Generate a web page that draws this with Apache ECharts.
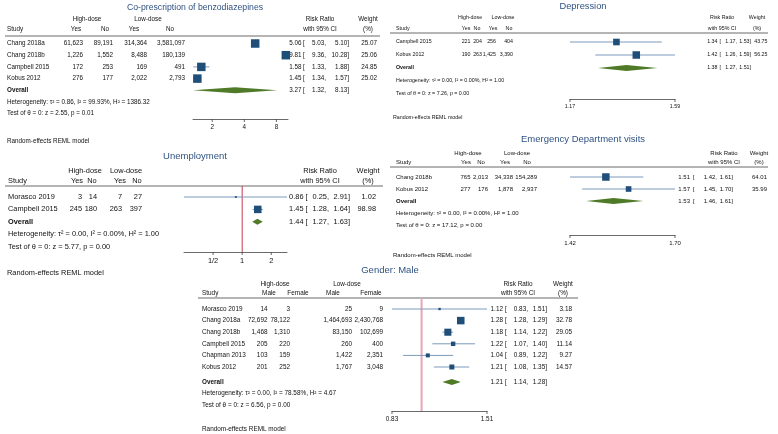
<!DOCTYPE html>
<html><head><meta charset="utf-8">
<script src="https://cdn.jsdelivr.net/npm/echarts@6/dist/echarts.min.js"></script>
<style>html,body{margin:0;padding:0;background:#fff}#c{width:778px;height:434px}</style>
</head><body><div id="c"></div>
<script>
// ---------------- DATA ----------------
// Co-prescription of benzodiazepines
const benzoStudies = ['Chang 2018a', 'Chang 2018b', 'Campbell 2015', 'Kobus 2012'];
const benzoHighYes = [61623, 1226, 172, 276];
const benzoHighNo = [89191, 1552, 253, 177];
const benzoLowYes = [314364, 8488, 169, 2022];
const benzoLowNo = [3581097, 180139, 491, 2793];
const benzoRR = [5.06, 9.81, 1.58, 1.45];
const benzoLo = [5.03, 9.36, 1.33, 1.34];
const benzoHi = [5.10, 10.28, 1.88, 1.57];
const benzoWeight = [25.07, 25.06, 24.85, 25.02];
const benzoOverall = [3.27, 1.32, 8.13];
const benzoHet = 'Heterogeneity: τ² = 0.86, I² = 99.93%, H² = 1386.32';
const benzoTest = 'Test of θ = 0: z = 2.55, p = 0.01';
const benzoTicks = [2, 4, 8];
const benzoTickLabels = ['2', '4', '8'];

// Unemployment
const unempStudies = ['Morasco 2019', 'Campbell 2015'];
const unempHighYes = [3, 245];
const unempHighNo = [14, 180];
const unempLowYes = [7, 263];
const unempLowNo = [27, 397];
const unempRR = [0.86, 1.45];
const unempLo = [0.25, 1.28];
const unempHi = [2.91, 1.64];
const unempWeight = [1.02, 98.98];
const unempOverall = [1.44, 1.27, 1.63];
const unempHet = 'Heterogeneity: τ² = 0.00, I² = 0.00%, H² = 1.00';
const unempTest = 'Test of θ = 0: z = 5.77, p = 0.00';
const unempTicks = [0.5, 1, 2];
const unempTickLabels = ['1/2', '1', '2'];

// Depression
const depStudies = ['Campbell 2015', 'Kobus 2012'];
const depHighYes = [221, 190];
const depHighNo = [204, 263];
const depLowYes = [256, 1425];
const depLowNo = [404, 3390];
const depRR = [1.34, 1.42];
const depLo = [1.17, 1.26];
const depHi = [1.53, 1.59];
const depWeight = [43.75, 56.25];
const depOverall = [1.38, 1.27, 1.51];
const depHet = 'Heterogeneity: τ² = 0.00, I² = 0.00%, H² = 1.00';
const depTest = 'Test of θ = 0: z = 7.26, p = 0.00';
const depTicks = [1.17, 1.59];
const depTickLabels = ['1.17', '1.59'];

// Emergency Department visits
const edStudies = ['Chang 2018b', 'Kobus 2012'];
const edHighYes = [765, 277];
const edHighNo = [2013, 176];
const edLowYes = [34338, 1878];
const edLowNo = [154289, 2937];
const edRR = [1.51, 1.57];
const edLo = [1.42, 1.45];
const edHi = [1.61, 1.70];
const edWeight = [64.01, 35.99];
const edOverall = [1.53, 1.46, 1.61];
const edHet = 'Heterogeneity: τ² = 0.00, I² = 0.00%, H² = 1.00';
const edTest = 'Test of θ = 0: z = 17.12, p = 0.00';
const edTicks = [1.42, 1.70];
const edTickLabels = ['1.42', '1.70'];

// Gender: Male
const genStudies = ['Morasco 2019', 'Chang 2018a', 'Chang 2018b', 'Campbell 2015', 'Chapman 2013', 'Kobus 2012'];
const genHighMale = [14, 72692, 1468, 205, 103, 201];
const genHighFemale = [3, 78122, 1310, 220, 159, 252];
const genLowMale = [25, 1464693, 83150, 260, 1422, 1767];
const genLowFemale = [9, 2430768, 102699, 400, 2351, 3048];
const genRR = [1.12, 1.28, 1.18, 1.22, 1.04, 1.21];
const genLo = [0.83, 1.28, 1.14, 1.07, 0.89, 1.08];
const genHi = [1.51, 1.29, 1.22, 1.40, 1.22, 1.35];
const genWeight = [3.18, 32.78, 29.05, 11.14, 9.27, 14.57];
const genOverall = [1.21, 1.14, 1.28];
const genHet = 'Heterogeneity: τ² = 0.00, I² = 78.58%, H² = 4.67';
const genTest = 'Test of θ = 0: z = 6.56, p = 0.00';
const genTicks = [0.83, 1.51];
const genTickLabels = ['0.83', '1.51'];

const groupLabels = ['High-dose', 'Low-dose'];
const yesNoHeaders = ['Yes', 'No', 'Yes', 'No'];
const sexHeaders = ['Male', 'Female', 'Male', 'Female'];
const modelNote = 'Random-effects REML model';

// ---------------- PANELS (data refs) ----------------
const panels = [
  { title: 'Co-prescription of benzodiazepines', studies: benzoStudies, cols: [benzoHighYes, benzoHighNo, benzoLowYes, benzoLowNo], colHdr: yesNoHeaders,
    rr: benzoRR, lo: benzoLo, hi: benzoHi, w: benzoWeight, overall: benzoOverall, het: benzoHet, test: benzoTest, ticks: benzoTicks, tickLabels: benzoTickLabels },
  { title: 'Unemployment', studies: unempStudies, cols: [unempHighYes, unempHighNo, unempLowYes, unempLowNo], colHdr: yesNoHeaders,
    rr: unempRR, lo: unempLo, hi: unempHi, w: unempWeight, overall: unempOverall, het: unempHet, test: unempTest, ticks: unempTicks, tickLabels: unempTickLabels },
  { title: 'Depression', studies: depStudies, cols: [depHighYes, depHighNo, depLowYes, depLowNo], colHdr: yesNoHeaders,
    rr: depRR, lo: depLo, hi: depHi, w: depWeight, overall: depOverall, het: depHet, test: depTest, ticks: depTicks, tickLabels: depTickLabels },
  { title: 'Emergency Department visits', studies: edStudies, cols: [edHighYes, edHighNo, edLowYes, edLowNo], colHdr: yesNoHeaders,
    rr: edRR, lo: edLo, hi: edHi, w: edWeight, overall: edOverall, het: edHet, test: edTest, ticks: edTicks, tickLabels: edTickLabels },
  { title: 'Gender: Male', studies: genStudies, cols: [genHighMale, genHighFemale, genLowMale, genLowFemale], colHdr: sexHeaders,
    rr: genRR, lo: genLo, hi: genHi, w: genWeight, overall: genOverall, het: genHet, test: genTest, ticks: genTicks, tickLabels: genTickLabels }
];

// ---------------- LAYOUT / STYLE ----------------
const layouts = [
  { fs: 6.3, tfs: 8.7, titleX: 195, titleY: 8, grpY: 19, hdrY: 29, lineY: 36, lineX0: 5, lineX1: 380, studyX: 7,
    grpX: [87, 148], colHdrX: [76, 105, 134, 170], colRight: [83, 113, 147, 185], rrHdrX: 320, wHdrX: 368,
    estR: 301.5, brX: 303, loR: 326, hiR: 349, wR: 377, row0: 43.5, dy: 11.7, gap: 0,
    plotX0: 193, plotX1: 288, xMin: 1.32, xMax: 10.28, axisY: 119, reX: 7, reY: 141, sqMax: 8.5, diaH: 3, nullLine: null },
  { fs: 7.4, tfs: 9.5, titleX: 195, titleY: 156, grpY: 171, hdrY: 181, lineY: 186, lineX0: 5, lineX1: 383, studyX: 8,
    grpX: [85, 126], colHdrX: [77, 92, 120, 137], colRight: [82, 97, 122, 142], rrHdrX: 320, wHdrX: 368,
    estR: 303.5, brX: 305.5, loR: 329, hiR: 350, wR: 376, row0: 197, dy: 12.4, gap: 0,
    plotX0: 184, plotX1: 287, xMin: 0.25, xMax: 2.91, axisY: 252, reX: 7, reY: 273, sqMax: 7.5, diaH: 3,
    nullLine: { color: '#c23b50', width: 1 } },
  { fs: 5.3, tfs: 9.3, titleX: 583, titleY: 6, grpY: 18, hdrY: 29, lineY: 33, lineX0: 390, lineX1: 768, studyX: 396,
    grpX: [470, 503], colHdrX: [466, 477, 493, 509], colRight: [470.5, 482, 496, 513], rrHdrX: 722, wHdrX: 757,
    estR: 717.5, brX: 719.5, loR: 737, hiR: 751, wR: 767.5, row0: 42, dy: 13, gap: 0,
    plotX0: 570, plotX1: 675, xMin: 1.17, xMax: 1.59, axisY: 99, reX: 393, reY: 118, sqMax: 7.5, diaH: 3, nullLine: null },
  { fs: 6.0, tfs: 9.5, titleX: 583, titleY: 139, grpY: 153, hdrY: 162, lineY: 167, lineX0: 390, lineX1: 768, studyX: 396,
    grpX: [468, 517], colHdrX: [466, 481, 505, 527], colRight: [470.5, 488, 513, 537], rrHdrX: 724, wHdrX: 759,
    estR: 690, brX: 693, loR: 717, hiR: 733, wR: 767, row0: 177, dy: 12, gap: 0,
    plotX0: 570, plotX1: 675, xMin: 1.42, xMax: 1.70, axisY: 235, reX: 393, reY: 255, sqMax: 7.5, diaH: 3, nullLine: null },
  { fs: 6.4, tfs: 9.5, titleX: 390, titleY: 270, grpY: 284, hdrY: 293, lineY: 298, lineX0: 198, lineX1: 578, studyX: 202,
    grpX: [275, 347], colHdrX: [269, 298, 333, 371], colRight: [267.5, 290, 352, 383], rrHdrX: 518, wHdrX: 563,
    estR: 503, brX: 505, loR: 528, hiR: 547, wR: 572, row0: 309, dy: 11.6, gap: 0.3,
    plotX0: 392, plotX1: 487, xMin: 0.83, xMax: 1.51, axisY: 411, reX: 202, reY: 429, sqMax: 7.5, diaH: 3,
    nullLine: { color: '#e8a5b6', width: 2 } }
];

const FF = '"Liberation Sans", Arial, Helvetica, sans-serif';
const TEXT = '#111';
const TITLE = '#2f5282';
const SQ = '#1f4e79';
const CIC = '#7d9bbb';
const DIA = '#4f7b29';
const AX = '#444';

const out = { grid: [], xAxis: [], yAxis: [], series: [], graphic: [] };
const fmtN = v => v.toLocaleString('en-US');
const f2 = v => v.toFixed(2);

function txt(x, y, text, fs, align, extra) {
  const e = { type: 'text', x: x, y: y, silent: true,
    style: Object.assign({ text: text, font: fs + 'px ' + FF, fill: TEXT, align: align || 'left', verticalAlign: 'middle' }, extra || {}) };
  out.graphic.push(e);
}

panels.forEach((P, idx) => {
  const L = layouts[idx];
  const n = P.studies.length;
  const rowY = r => L.row0 + r * L.dy;
  const oRow = n + L.gap;
  const maxW = Math.max.apply(null, P.w);

  out.grid.push({ left: L.plotX0, top: L.lineY, width: L.plotX1 - L.plotX0, height: L.axisY - L.lineY, containLabel: false });
  out.xAxis.push({ type: 'log', gridIndex: idx, min: L.xMin, max: L.xMax, position: 'bottom',
    axisLine: { show: true, onZero: false, lineStyle: { color: AX, width: 0.8 } },
    axisTick: { show: false }, axisLabel: { show: false }, splitLine: { show: false } });
  out.yAxis.push({ type: 'value', gridIndex: idx, min: (L.lineY - L.row0) / L.dy, max: (L.axisY - L.row0) / L.dy,
    inverse: true, show: false, splitLine: { show: false } });

  if (L.nullLine) {
    out.series.push({ type: 'custom', xAxisIndex: idx, yAxisIndex: idx, clip: false, silent: true,
      data: [[1, 0]], encode: { x: 0, y: 1 },
      renderItem: (params, api) => {
        const cs = params.coordSys;
        const x = api.coord([api.value(0), 0])[0];
        return { type: 'line', shape: { x1: x, y1: cs.y, x2: x, y2: cs.y + cs.height },
          style: { stroke: L.nullLine.color, lineWidth: L.nullLine.width } };
      } });
  }

  out.series.push({ type: 'custom', xAxisIndex: idx, yAxisIndex: idx, clip: false, silent: true,
    data: P.rr.map((v, i) => [v, P.lo[i], P.hi[i], P.w[i], i]),
    encode: { x: [0, 1, 2], y: 4 },
    renderItem: (params, api) => {
      const r = api.value(4);
      const c = api.coord([api.value(0), r]);
      const a = api.coord([api.value(1), r]);
      const b = api.coord([api.value(2), r]);
      const s = Math.max(1.8, L.sqMax * Math.sqrt(api.value(3) / maxW));
      return { type: 'group', children: [
        { type: 'line', shape: { x1: a[0], y1: a[1], x2: b[0], y2: b[1] }, style: { stroke: CIC, lineWidth: 1 } },
        { type: 'rect', shape: { x: c[0] - s / 2, y: c[1] - s / 2, width: s, height: s }, style: { fill: SQ } }
      ] };
    } });

  out.series.push({ type: 'custom', xAxisIndex: idx, yAxisIndex: idx, clip: false, silent: true,
    data: [[P.overall[0], P.overall[1], P.overall[2], oRow]],
    encode: { x: [0, 1, 2], y: 3 },
    renderItem: (params, api) => {
      const r = api.value(3);
      const c = api.coord([api.value(0), r]);
      const a = api.coord([api.value(1), r]);
      const b = api.coord([api.value(2), r]);
      const h = L.diaH;
      return { type: 'polygon', shape: { points: [[a[0], a[1]], [c[0], c[1] - h], [b[0], b[1]], [c[0], c[1] + h]] },
        style: { fill: DIA } };
    } });

  out.series.push({ type: 'custom', xAxisIndex: idx, yAxisIndex: idx, clip: false, silent: true,
    data: P.ticks.map(v => [v, 0]), encode: { x: 0, y: 1 },
    renderItem: (params, api) => {
      const cs = params.coordSys;
      const x = api.coord([api.value(0), 0])[0];
      const y0 = cs.y + cs.height;
      return { type: 'group', children: [
        { type: 'line', shape: { x1: x, y1: y0, x2: x, y2: y0 + 3 }, style: { stroke: AX, lineWidth: 0.8 } },
        { type: 'text', x: x, y: y0 + 5, style: { text: P.tickLabels[params.dataIndex], font: L.fs + 'px ' + FF,
          fill: TEXT, align: 'center', verticalAlign: 'top' } }
      ] };
    } });

  txt(L.titleX, L.titleY, P.title, L.tfs, 'center', { fill: TITLE });
  txt(L.grpX[0], L.grpY, groupLabels[0], L.fs, 'center');
  txt(L.grpX[1], L.grpY, groupLabels[1], L.fs, 'center');
  txt(L.studyX, L.hdrY, 'Study', L.fs, 'left');
  P.colHdr.forEach((h, j) => txt(L.colHdrX[j], L.hdrY, h, L.fs, 'center'));
  txt(L.rrHdrX, L.grpY, 'Risk Ratio', L.fs, 'center');
  txt(L.rrHdrX, L.hdrY, 'with 95% CI', L.fs, 'center');
  txt(L.wHdrX, L.grpY, 'Weight', L.fs, 'center');
  txt(L.wHdrX, L.hdrY, '(%)', L.fs, 'center');
  out.graphic.push({ type: 'line', silent: true, shape: { x1: L.lineX0, y1: L.lineY, x2: L.lineX1, y2: L.lineY },
    style: { stroke: '#444', lineWidth: 0.8 } });

  P.studies.forEach((s, i) => {
    const y = rowY(i);
    txt(L.studyX, y, s, L.fs, 'left');
    P.cols.forEach((col, j) => txt(L.colRight[j], y, fmtN(col[i]), L.fs, 'right'));
    txt(L.estR, y, f2(P.rr[i]), L.fs, 'right');
    txt(L.brX, y, '[', L.fs, 'left');
    txt(L.loR, y, f2(P.lo[i]) + ',', L.fs, 'right');
    txt(L.hiR, y, f2(P.hi[i]) + ']', L.fs, 'right');
    txt(L.wR, y, f2(P.w[i]), L.fs, 'right');
  });
  const yo = rowY(oRow);
  txt(L.studyX, yo, 'Overall', L.fs, 'left', { font: 'bold ' + L.fs + 'px ' + FF });
  txt(L.estR, yo, f2(P.overall[0]), L.fs, 'right');
  txt(L.brX, yo, '[', L.fs, 'left');
  txt(L.loR, yo, f2(P.overall[1]) + ',', L.fs, 'right');
  txt(L.hiR, yo, f2(P.overall[2]) + ']', L.fs, 'right');
  txt(L.studyX, rowY(oRow + 1), P.het, L.fs, 'left');
  txt(L.studyX, rowY(oRow + 2), P.test, L.fs, 'left');
  txt(L.reX, L.reY, modelNote, L.fs, 'left');
});

const chart = echarts.init(document.getElementById('c'), null, { renderer: 'canvas' });
chart.setOption({
  animation: false,
  backgroundColor: '#fff',
  grid: out.grid, xAxis: out.xAxis, yAxis: out.yAxis, series: out.series, graphic: out.graphic
});
</script></body></html>
